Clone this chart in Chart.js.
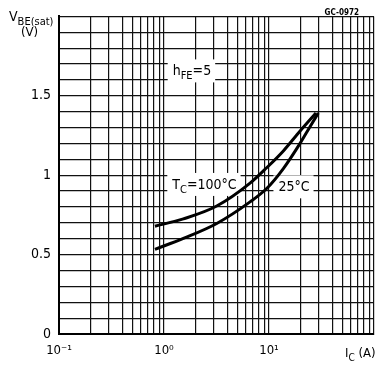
<!DOCTYPE html>
<html>
<head>
<meta charset="utf-8">
<script src="https://cdn.jsdelivr.net/npm/chart.js@4.4.1/dist/chart.umd.min.js"></script>
<style>
  html, body { margin: 0; padding: 0; background: #fff; }
  #wrap { width: 377px; height: 366px; }
</style>
</head>
<body>
<div id="wrap"><canvas id="vbeChart" width="377" height="366"></canvas></div>
<script>
// curves (IC in A, VBE(sat) in V)
const ic100 = [0.82, 1.53, 3.18, 6.6, 9.5, 13.7, 19.7, 28.0];
const vbe100 = [0.679, 0.725, 0.806, 0.95, 1.047, 1.153, 1.277, 1.392];
const ic25 = [0.82, 1.53, 3.18, 6.6, 9.5, 13.7, 19.7, 24.5, 29.5];
const vbe25 = [0.533, 0.602, 0.696, 0.832, 0.916, 1.042, 1.199, 1.304, 1.392];

const xDecades = [0.1, 1, 10];
const xTickLabels = ['10\u207B\u00B9', '10\u2070', '10\u00B9'];
const yTickValues = [0, 0.5, 1, 1.5];
const yTickLabels = ['0', '0.5', '1', '1.5'];

const FONT = '"DejaVu Sans Condensed", "Liberation Sans Narrow", "DejaVu Sans", sans-serif';

// text notes inside the plot, placed in data units
const notes = [
    { ic: 1.21, v: 1.66, parts: [['h'], ['FE', 1], ['=5']] },
    { ic: 1.2, v: 0.945, parts: [['T'], ['C', 1], ['=100\u00B0C']] },
    { ic: 12.3, v: 0.93, parts: [['25\u00B0C']] }
];

function richWidth(ctx, parts, size) {
    let w = 0;
    parts.forEach(p => {
        ctx.font = (p[1] ? size - 3 : size) + 'px ' + FONT;
        w += ctx.measureText(p[0]).width;
    });
    return w;
}

function drawRich(ctx, x, y, parts, size) {
    ctx.textAlign = 'left';
    ctx.textBaseline = 'alphabetic';
    ctx.fillStyle = '#000';
    parts.forEach(p => {
        ctx.font = (p[1] ? size - 3 : size) + 'px ' + FONT;
        ctx.fillText(p[0], x, p[1] ? y + 4 : y);
        x += ctx.measureText(p[0]).width;
    });
}

const textPlugin = {
    id: 'textPlugin',
    beforeDatasetsDraw(chart) {
        const ctx = chart.ctx;
        const x = chart.scales.x, y = chart.scales.y;
        ctx.save();
        notes.forEach(n => {
            const px = x.getPixelForValue(n.ic);
            const py = y.getPixelForValue(n.v);
            const w = richWidth(ctx, n.parts, 14);
            ctx.fillStyle = '#fff';
            ctx.fillRect(px - 5, py - 11, w + 9, 23);
            drawRich(ctx, px, py + 5, n.parts, 14);
        });
        ctx.restore();
    },
    afterDraw(chart) {
        const ctx = chart.ctx;
        const area = chart.chartArea;
        ctx.save();
        // y axis title
        drawRich(ctx, area.left - 50, 21, [['V'], ['BE(sat)', 1]], 14);
        drawRich(ctx, area.left - 38, 36, [['(V)']], 13);
        // x axis title
        drawRich(ctx, area.right - 29, 357, [['I'], ['C', 1], [' (A)']], 13);
        // figure code
        ctx.font = 'bold 8px ' + FONT;
        ctx.textAlign = 'right';
        ctx.fillText('GC-0972', area.right - 15, 15);
        ctx.restore();
    }
};

const ctx = document.getElementById('vbeChart');

new Chart(ctx, {
    type: 'line',
    data: {
        datasets: [
            {
                label: 'TC=100\u00B0C',
                data: ic100.map((v, i) => ({ x: v, y: vbe100[i] })),
                borderColor: '#000',
                borderWidth: 3,
                pointRadius: 0,
                fill: false,
                cubicInterpolationMode: 'monotone'
            },
            {
                label: '25\u00B0C',
                data: ic25.map((v, i) => ({ x: v, y: vbe25[i] })),
                borderColor: '#000',
                borderWidth: 3,
                pointRadius: 0,
                fill: false,
                cubicInterpolationMode: 'monotone'
            }
        ]
    },
    options: {
        responsive: false,
        animation: false,
        layout: { padding: { top: 16, right: 3, left: 0, bottom: 0 } },
        plugins: {
            legend: { display: false },
            tooltip: { enabled: false }
        },
        scales: {
            x: {
                type: 'logarithmic',
                min: 0.1,
                max: 100,
                afterBuildTicks: scale => {
                    const t = [];
                    xDecades.forEach(d => {
                        for (let m = 1; m < 10; m++) t.push({ value: d * m });
                    });
                    t.push({ value: 100 });
                    scale.ticks = t;
                },
                afterFit: scale => {
                    scale.height = 32;
                    scale.paddingLeft = 0;
                    scale.paddingRight = 0;
                },
                ticks: {
                    autoSkip: false,
                    maxRotation: 0,
                    padding: 9,
                    color: '#000',
                    font: { family: FONT, size: 13 },
                    callback: function (value) {
                        const i = xDecades.findIndex(d => Math.abs(value - d) < d * 1e-6);
                        return i >= 0 ? xTickLabels[i] : '';
                    }
                },
                grid: { color: '#111', lineWidth: 1.2, drawTicks: false },
                border: { color: '#000', width: 2 }
            },
            y: {
                min: 0,
                max: 2,
                afterFit: scale => { scale.width = 59; },
                ticks: {
                    stepSize: 0.1,
                    autoSkip: false,
                    padding: 8,
                    color: '#000',
                    font: { family: FONT, size: 14 },
                    callback: function (value) {
                        const r = Math.round(value * 10) / 10;
                        const i = yTickValues.indexOf(r);
                        return i >= 0 ? yTickLabels[i] : '';
                    }
                },
                grid: { color: '#111', lineWidth: 1.2, drawTicks: false },
                border: { color: '#000', width: 2 }
            }
        }
    },
    plugins: [textPlugin]
});
</script>
</body>
</html>
